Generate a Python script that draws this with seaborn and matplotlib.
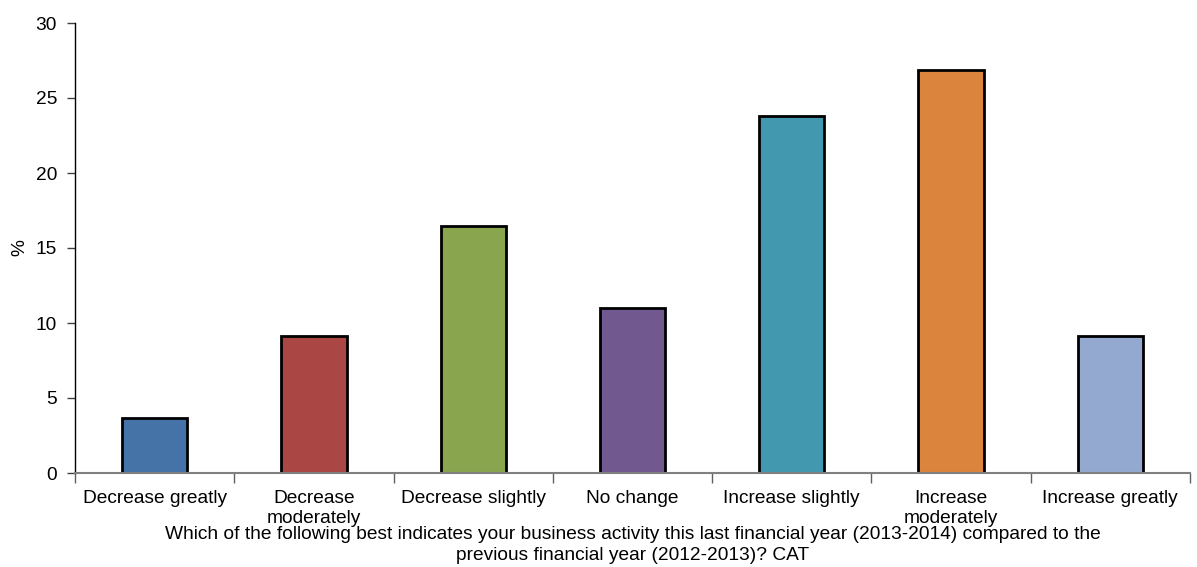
import matplotlib
matplotlib.use("Agg")
import matplotlib.pyplot as plt
import seaborn as sns
import pandas as pd

# Survey responses: change in business activity, percent of respondents
categories = [
    "Decrease greatly",
    "Decrease\nmoderately",
    "Decrease slightly",
    "No change",
    "Increase slightly",
    "Increase\nmoderately",
    "Increase greatly",
]
percent = [3.67, 9.13, 16.47, 11.0, 23.8, 26.87, 9.13]
colors = ["#4572A7", "#AA4643", "#89A54E", "#71588F", "#4198AF", "#DB843D", "#93A9CF"]
y_ticks = [0, 5, 10, 15, 20, 25, 30]
x_title = ("Which of the following best indicates your business activity this last financial year (2013-2014) compared to the\n"
           "previous financial year (2012-2013)? CAT")

sns.set_style("white")
plt.rcParams["font.family"] = ["Liberation Sans", "DejaVu Sans"]
FS = 13.8

df = pd.DataFrame({"category": categories, "percent": percent})

fig = plt.figure(figsize=(11.97, 5.67), dpi=100)
ax = fig.add_axes([75 / 1197, 94 / 567, 1115 / 1197, 450 / 567])

sns.barplot(data=df, x="category", y="percent", hue="category",
            palette=colors, saturation=1, legend=False, width=0.41,
            edgecolor="black", linewidth=2, ax=ax, zorder=3)

ax.set_xlim(-0.5, len(categories) - 0.5)
ax.set_ylim(0, 30)
ax.set_yticks(y_ticks)
ax.set_yticklabels([str(t) for t in y_ticks], fontsize=FS, color="black")
ax.tick_params(axis="y", direction="out", length=6, width=1, color="#404040",
               left=True, pad=7)

# category labels centred under bars, tick marks at category boundaries
ax.set_xticks(range(len(categories)))
ax.set_xticklabels(categories, fontsize=FS, linespacing=1.25, color="black")
ax.tick_params(axis="x", which="major", length=0, pad=12)
ax.set_xticks([i - 0.5 for i in range(len(categories) + 1)], minor=True)
ax.tick_params(axis="x", which="minor", direction="out", length=7, width=1,
               color="#606060", bottom=True)

for side in ("top", "right"):
    ax.spines[side].set_visible(False)
ax.spines["left"].set_color("black")
ax.spines["left"].set_linewidth(1)
ax.spines["bottom"].set_color("#808080")
ax.spines["bottom"].set_linewidth(1.5)
ax.spines["bottom"].set_zorder(4)

ax.set_ylabel("%", fontsize=FS, labelpad=5, color="black")
ax.set_xlabel("")
fig.text((75 + 1190) / 2 / 1197, 1 - 545 / 567, x_title, ha="center", va="center",
         fontsize=FS, linespacing=1.25, color="black")

fig.savefig("out.png", dpi=100)
